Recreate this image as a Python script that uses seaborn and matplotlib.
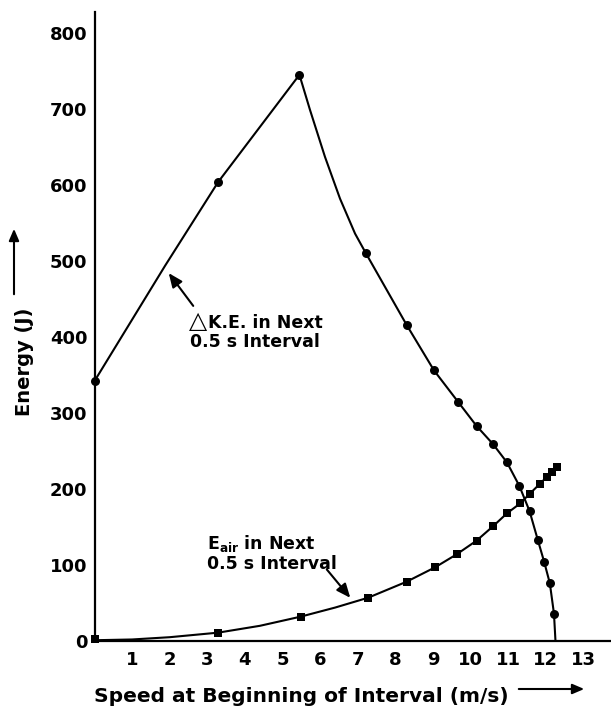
import matplotlib
matplotlib.use("Agg")
import matplotlib.pyplot as plt
from matplotlib.patches import FancyArrowPatch
import seaborn as sns
import pandas as pd

# ---- data ----
ke_speed = [0, 3.29, 5.45, 7.22, 8.3, 9.03, 9.68, 10.16, 10.6, 10.97, 11.3, 11.57, 11.79, 11.96, 12.11, 12.22]
ke_energy = [342, 604, 745, 510, 416, 356, 314, 283, 259, 235, 204, 171, 133, 104, 76, 36]

air_speed = [0, 3.29, 5.48, 7.28, 8.3, 9.06, 9.63, 10.16, 10.6, 10.97, 11.32, 11.58, 11.85, 12.03, 12.16, 12.29]
air_energy = [3, 11, 32, 57, 78, 97, 114, 132, 151, 168, 181, 194, 207, 216, 223, 229]

# traced curve shapes
ke_line_x = [0, 1.88, 3.29, 5.45, 5.73, 6.13, 6.53, 6.93, 7.22, 8.3, 9.03, 9.68, 10.16,
             10.6, 10.97, 11.3, 11.57, 11.79, 11.96, 12.11, 12.22, 12.26]
ke_line_y = [342, 494, 604, 745, 699, 637, 582, 536, 510, 416, 356, 314, 283,
             259, 235, 204, 171, 133, 104, 76, 36, 0]
air_line_x = [0, 1.0, 2.0, 3.29, 4.4, 5.48, 6.4, 7.28, 8.3, 9.06, 9.63, 10.16, 10.6, 10.97,
              11.32, 11.58, 11.85, 12.03, 12.16, 12.29]
air_line_y = [1, 2, 5, 11, 20, 32, 44, 57, 78, 97, 114, 132, 151, 168,
              181, 194, 207, 216, 223, 229]

x_ticks = list(range(1, 14))
y_ticks = list(range(0, 801, 100))

sns.set_theme(style="white")
plt.rcParams["font.family"] = ["DejaVu Sans"]
plt.rcParams["font.weight"] = "bold"
plt.rcParams["mathtext.fontset"] = "dejavusans"
plt.rcParams["text.color"] = "black"

W, H = 611, 710
fig = plt.figure(figsize=(W / 100, H / 100), dpi=100)
x0px, y0px = 94.5, 641
ax = fig.add_axes([x0px / W, (H - y0px) / H, (W - x0px) / W, (y0px - 12) / H])

ke_line = pd.DataFrame({"x": ke_line_x, "y": ke_line_y})
air_line = pd.DataFrame({"x": air_line_x, "y": air_line_y})
ke_pts = pd.DataFrame({"x": ke_speed, "y": ke_energy})
air_pts = pd.DataFrame({"x": air_speed, "y": air_energy})

sns.lineplot(data=ke_line, x="x", y="y", sort=False, estimator=None, color="black", lw=1.5, ax=ax)
sns.lineplot(data=air_line, x="x", y="y", sort=False, estimator=None, color="black", lw=1.5, ax=ax)
sns.scatterplot(data=ke_pts, x="x", y="y", marker="o", s=42, color="black", edgecolor="black",
                linewidth=0, ax=ax, zorder=5, clip_on=False)
sns.scatterplot(data=air_pts, x="x", y="y", marker="s", s=30, color="black", edgecolor="black",
                linewidth=0, ax=ax, zorder=5, clip_on=False)

ax.set_xlim(0, (W - x0px) / 37.6)
ax.set_ylim(0, (y0px - 12) / 0.76)
ax.set_xticks(x_ticks)
ax.set_xticklabels([str(t) for t in x_ticks])
ax.set_yticks(y_ticks)
ax.set_yticklabels([str(t) for t in y_ticks])
ax.tick_params(axis="both", direction="in", length=7, width=1.4, color="black",
               labelsize=13, labelcolor="black")
ax.tick_params(axis="x", pad=7)
ax.tick_params(axis="y", pad=5)
for lab in ax.get_xticklabels() + ax.get_yticklabels():
    lab.set_fontweight("bold")
for side in ["top", "right"]:
    ax.spines[side].set_visible(False)
for side in ["left", "bottom"]:
    ax.spines[side].set_color("black")
    ax.spines[side].set_linewidth(1.6)
ax.set_xlabel("")
ax.set_ylabel("")
ax.grid(False)

# annotations
ax.text(2.52, 412, "\u25b3", fontsize=17, ha="left", va="baseline", color="black")
ax.text(3.02, 412, "K.E. in Next", fontsize=12.5, fontweight="bold",
        ha="left", va="baseline", color="black")
ax.text(2.55, 387, "0.5 s Interval", fontsize=12.5, fontweight="bold",
        ha="left", va="baseline", color="black")
ax.annotate("", xy=(1.93, 487), xytext=(2.67, 438),
            arrowprops=dict(arrowstyle="-|>,head_length=0.7,head_width=0.3", color="black", lw=1.5))
ax.text(2.99, 142, "E$_{\\mathbf{air}}$ in Next\n0.5 s Interval", fontsize=12.5, fontweight="bold",
        ha="left", va="top", linespacing=1.1, color="black")
ax.annotate("", xy=(6.85, 54), xytext=(6.13, 97),
            arrowprops=dict(arrowstyle="-|>,head_length=0.7,head_width=0.3", color="black", lw=1.5))

# axis titles with arrows
fig.text(25 / W, (H - 362) / H, "Energy (J)", rotation=90, ha="center", va="center",
         fontsize=14, fontweight="bold", color="black")
fig.add_artist(FancyArrowPatch(
    (14 / W, (H - 297) / H), (14 / W, (H - 226) / H), transform=fig.transFigure,
    arrowstyle="-|>,head_length=7,head_width=3", color="black", lw=1.5, mutation_scale=1))
fig.text(301 / W, (H - 697) / H, "Speed at Beginning of Interval (m/s)", ha="center", va="center",
         fontsize=14.5, fontweight="bold", color="black")
fig.add_artist(FancyArrowPatch(
    (516 / W, (H - 689) / H), (587 / W, (H - 689) / H), transform=fig.transFigure,
    arrowstyle="-|>,head_length=7,head_width=3", color="black", lw=1.5, mutation_scale=1))

fig.savefig("out.png", dpi=100, facecolor="white")
